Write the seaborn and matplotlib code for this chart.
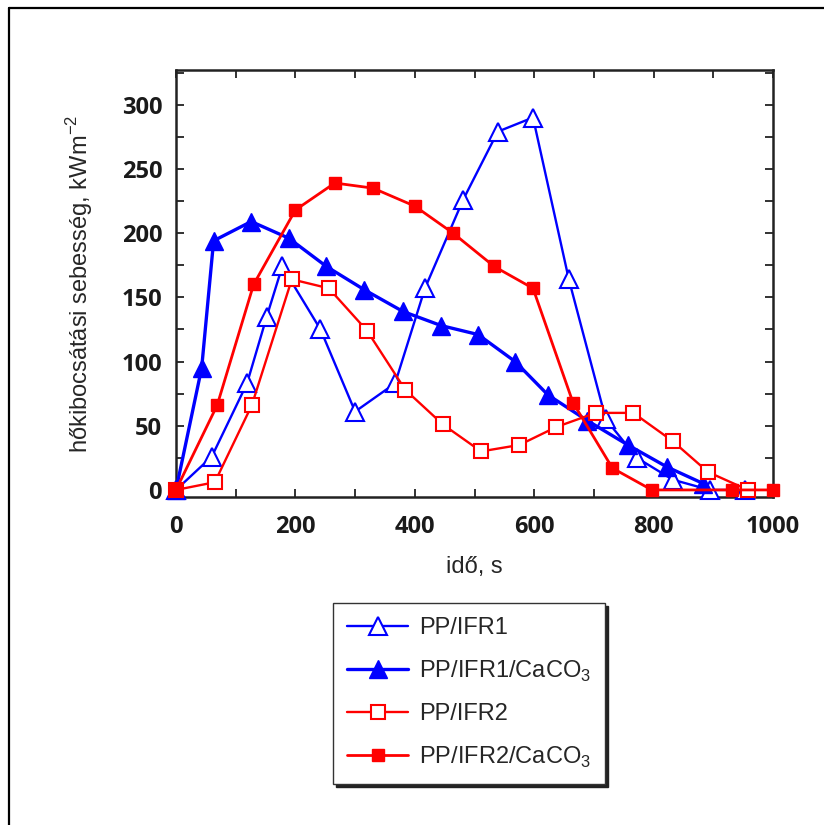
import matplotlib
matplotlib.use('Agg')
import matplotlib.pyplot as plt
import seaborn as sns
from matplotlib.lines import Line2D
from matplotlib.ticker import MultipleLocator

# ---- data ----
series_names = ['PP/IFR1', 'PP/IFR1/CaCO$_\\mathregular{3}$',
                'PP/IFR2', 'PP/IFR2/CaCO$_\\mathregular{3}$']

ifr1_x = [0, 60, 119, 152, 178, 242, 300, 367, 417, 481, 539, 598, 658, 720, 772, 832, 894, 953]
ifr1_y = [0, 26, 83, 135, 174, 125, 61, 83, 157, 226, 279, 290, 164, 55, 25, 8, 0, 0]

ifr1_ca_x = [0, 43, 63, 126, 189, 252, 315, 380, 444, 506, 568, 623, 689, 757, 822, 883]
ifr1_ca_y = [0, 95, 194, 209, 196, 174, 156, 139, 128, 121, 100, 74, 54, 35, 18, 5]

ifr2_x = [0, 65, 127, 194, 256, 320, 384, 447, 511, 575, 637, 703, 766, 832, 891, 958]
ifr2_y = [0, 6, 66, 164, 157, 124, 78, 51, 30, 35, 49, 60, 60, 38, 14, 0]

ifr2_ca_x = [0, 69, 130, 200, 266, 330, 400, 464, 533, 598, 665, 731, 797, 931, 1000]
ifr2_ca_y = [0, 66, 160, 218, 239, 235, 221, 200, 174, 157, 68, 17, 0, 0, 0]

x_label = 'idő, s'
y_label = 'hőkibocsátási sebesség, kWm$^\\mathregular{-2}$'

# ---- style ----
sns.set_style('ticks')
plt.rcParams['font.family'] = ['Liberation Sans', 'DejaVu Sans']
plt.rcParams['mathtext.fontset'] = 'custom'
plt.rcParams['mathtext.rm'] = 'Liberation Sans'

BLUE = '#0000ff'
RED = '#ff0000'

fig = plt.figure(figsize=(8.24, 8.25), dpi=100)
W, H = 824, 825
ax = fig.add_axes([176 / W, 1 - 497 / H, (773 - 176) / W, (497 - 70) / H])

styles = [
    dict(color=BLUE, marker='^', markerfacecolor='white', markeredgecolor=BLUE,
         markersize=12.5, markeredgewidth=1.5, linewidth=1.7),
    dict(color=BLUE, marker='^', markerfacecolor=BLUE, markeredgecolor=BLUE,
         markersize=12.5, markeredgewidth=1.0, linewidth=2.4),
    dict(color=RED, marker='s', markerfacecolor='white', markeredgecolor=RED,
         markersize=9.5, markeredgewidth=1.5, linewidth=1.7),
    dict(color=RED, marker='s', markerfacecolor=RED, markeredgecolor=RED,
         markersize=9, markeredgewidth=1.0, linewidth=2.0),
]
data = [(ifr1_x, ifr1_y), (ifr1_ca_x, ifr1_ca_y), (ifr2_x, ifr2_y), (ifr2_ca_x, ifr2_ca_y)]

for i, (name, (xs, ys), st) in enumerate(zip(series_names, data, styles)):
    sns.lineplot(x=xs, y=ys, ax=ax, label=name, estimator=None, sort=False,
                 clip_on=False, zorder=3 + i, **st)

ax.set_xlim(0, 1000)
ax.set_ylim(-5.5, 327)
ax.xaxis.set_major_locator(MultipleLocator(200))
ax.xaxis.set_minor_locator(MultipleLocator(100))
ax.yaxis.set_major_locator(MultipleLocator(50))
ax.yaxis.set_minor_locator(MultipleLocator(25))

for s in ax.spines.values():
    s.set_visible(True)
    s.set_color('#222222')
    s.set_linewidth(1.8)

ax.tick_params(which='both', direction='in', top=True, right=True,
               length=6, width=1.3, color='#222222')
ax.tick_params(axis='x', which='major', pad=13)
ax.tick_params(axis='y', which='major', pad=10)
for lab in ax.get_xticklabels() + ax.get_yticklabels():
    lab.set_fontfamily(['Open Sans', 'DejaVu Sans'])
    lab.set_fontweight('bold')
    lab.set_fontsize(17)
    lab.set_color('#1a1a1a')

ax.set_xlabel(x_label, fontsize=17, labelpad=12)
ax.set_ylabel(y_label, fontsize=17, labelpad=19)

handles, labels = ax.get_legend_handles_labels()
if ax.get_legend() is not None:
    ax.get_legend().remove()
leg = fig.legend(handles, labels, loc='upper center',
                 bbox_to_anchor=(469 / W, 1 - 603 / H), bbox_transform=fig.transFigure,
                 fontsize=17, frameon=True, fancybox=False,
                 shadow={'color': '#222222', 'alpha': 1.0},
                 handlelength=2.6, handletextpad=0.45, labelspacing=0.82,
                 borderpad=0.6, borderaxespad=0)
leg.get_frame().set_edgecolor('#333333')
leg.get_frame().set_linewidth(1.0)
leg.get_frame().set_facecolor('white')
leg.get_frame().set_alpha(1)

# outer frame (top and left edges)
fig.add_artist(Line2D([9 / W, 1], [1 - 8 / H, 1 - 8 / H], transform=fig.transFigure,
                      color='black', linewidth=1.6))
fig.add_artist(Line2D([9 / W, 9 / W], [0, 1 - 8 / H], transform=fig.transFigure,
                      color='black', linewidth=1.6))

fig.savefig('out.png', dpi=100, facecolor='white')
